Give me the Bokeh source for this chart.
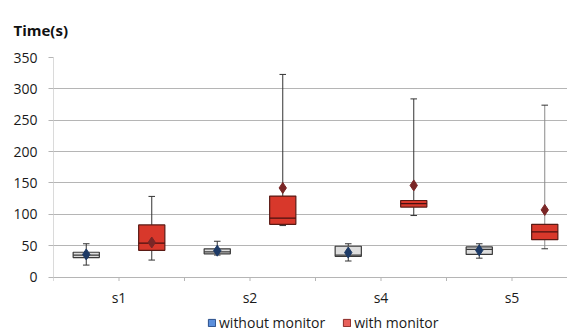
import math
from bokeh.plotting import figure
from bokeh.models import (Range1d, FixedTicker, Legend, LegendItem, ColumnDataSource)
from bokeh.core.properties import value
from bokeh.embed import file_html
from bokeh.resources import INLINE

# ---- data ----
groups = ["s1", "s2", "s4", "s5"]
series = ["without monitor", "with monitor"]

wo_min = [19, 35, 25.5, 30]
wo_q1 = [31, 37, 33, 36]
wo_med = [35, 40, 35, 44]
wo_q3 = [39.5, 45, 49, 48]
wo_max = [53, 57, 53, 53]
wo_mean = [36, 42, 39, 42.5]

wi_min = [27, 82, 98, 45]
wi_q1 = [42.5, 84, 111.5, 59.5]
wi_med = [54, 94, 117, 72]
wi_q3 = [83, 129, 122, 84]
wi_max = [128.5, 323, 284, 274]
wi_mean = [55, 142, 146, 107]

y_ticks = [0, 50, 100, 150, 200, 250, 300, 350]

FONT = "Open Sans"
GRID = "#b5b5b5"
TXT = "#1a1a1a"

n_slots = 2 * len(groups)
# frame spans from top gridline to the bottom of the page; the value scale is kept
# at 350 units over 219.5 px, so the range below zero leaves room for labels/legend
px_per_unit = 219.5 / 350
frame_h = 332 - 57
y_lo = y_ticks[-1] - frame_h / px_per_unit
x_hi = 514 / 65.5

p = figure(width=567, height=332, output_backend="svg", toolbar_location=None,
           x_range=Range1d(0, x_hi), y_range=Range1d(y_lo, y_ticks[-1]),
           min_border_left=53, min_border_right=0, min_border_top=57, min_border_bottom=0)
p.outline_line_color = None
p.background_fill_color = "white"
p.border_fill_color = "white"

# title
p.title.text = "Time(s)"
p.title.align = "left"
p.title.offset = -40
p.title.standoff = 35
p.title.text_font = FONT
p.title.text_font_size = "15px"
p.title.text_font_style = "bold"
p.title.text_color = "#111111"

# grid / axes
p.xgrid.visible = False
p.xaxis.visible = False
p.ygrid.ticker = FixedTicker(ticks=y_ticks)
p.ygrid.grid_line_color = GRID
p.ygrid.grid_line_width = 1
p.yaxis.ticker = FixedTicker(ticks=y_ticks)
p.yaxis.minor_tick_line_color = None
p.yaxis.major_tick_out = 5
p.yaxis.major_tick_in = 0
p.yaxis.axis_line_color = None
p.yaxis.major_tick_line_color = GRID
p.yaxis.major_label_standoff = 11
p.yaxis.major_label_text_font = FONT
p.yaxis.major_label_text_font_size = "14px"
p.yaxis.major_label_text_color = TXT

# value-axis line (0..350) and category axis ticks / labels
p.segment(x0=[0], y0=[y_ticks[0]], x1=[0], y1=[y_ticks[-1]], line_color=GRID, line_width=1)
bounds = list(range(n_slots + 1))
p.ray(x=bounds, y=[y_ticks[0]] * len(bounds), length=4, length_units="screen",
      angle=-math.pi / 2, line_color=GRID, line_width=1)
p.text(x=[2 * i + 1 for i in range(len(groups))], y=[y_ticks[0]] * len(groups), text=groups,
       y_offset=20, text_align="center", text_baseline="middle",
       text_font=value(FONT), text_font_size="14px", text_color=TXT)

box_w = 0.4
cap_w = 0.1


def draw(offset, mn, q1, med, q3, mx, mean, fill, edge, med_col, mean_col, whisk_cols):
    xs = [2 * i + offset for i in range(len(groups))]
    src = ColumnDataSource(dict(x=xs, mn=mn, q1=q1, med=med, q3=q3, mx=mx, mean=mean,
                                xl=[x - box_w / 2 for x in xs], xr=[x + box_w / 2 for x in xs],
                                cl=[x - cap_w / 2 for x in xs], cr=[x + cap_w / 2 for x in xs],
                                wc=whisk_cols))
    p.segment(x0="x", y0="q3", x1="x", y1="mx", source=src, line_color="wc", line_width=1)
    p.segment(x0="x", y0="mn", x1="x", y1="q1", source=src, line_color="wc", line_width=1)
    p.segment(x0="cl", y0="mx", x1="cr", y1="mx", source=src, line_color="#333333", line_width=1)
    p.segment(x0="cl", y0="mn", x1="cr", y1="mn", source=src, line_color="#333333", line_width=1)
    p.vbar(x="x", width=box_w, top="q3", bottom="q1", source=src, fill_color=fill,
           line_color=edge, line_width=1.2)
    p.segment(x0="xl", y0="med", x1="xr", y1="med", source=src, line_color=med_col, line_width=1.3)
    p.scatter(x="x", y="mean", source=src, marker="diamond", size=11,
              fill_color=mean_col, line_color=mean_col)


draw(0.5, wo_min, wo_q1, wo_med, wo_q3, wo_max, wo_mean,
     "#dedede", "#3a3a3a", "#3a3a3a", "#1d3a66", ["#333333"] * 4)
draw(1.5, wi_min, wi_q1, wi_med, wi_q3, wi_max, wi_mean,
     "#d8382b", "#5a1a14", "#4a1010", "#7a2626", ["#333333", "#333333", "#333333", "#8a8a8a"])

# legend (proxy renderers with no visible area)
nan = float("nan")
r_wo = p.quad(left=[nan], right=[nan], bottom=[nan], top=[nan],
              fill_color="#5b8fdc", line_color="#2a4f8a", line_width=1)
r_wi = p.quad(left=[nan], right=[nan], bottom=[nan], top=[nan],
              fill_color="#e8605b", line_color="#8a2a26", line_width=1)
legend = Legend(items=[LegendItem(label=series[0], renderers=[r_wo]),
                       LegendItem(label=series[1], renderers=[r_wi])],
                orientation="horizontal", location=(154, 0),
                padding=0, margin=0, spacing=17, label_standoff=3,
                glyph_width=9, glyph_height=9, label_height=16,
                label_text_font=FONT, label_text_font_size="14px", label_text_color=TXT,
                border_line_color=None, background_fill_alpha=0)
p.add_layout(legend, "center")

open("out.html", "w").write(file_html(p, INLINE))
